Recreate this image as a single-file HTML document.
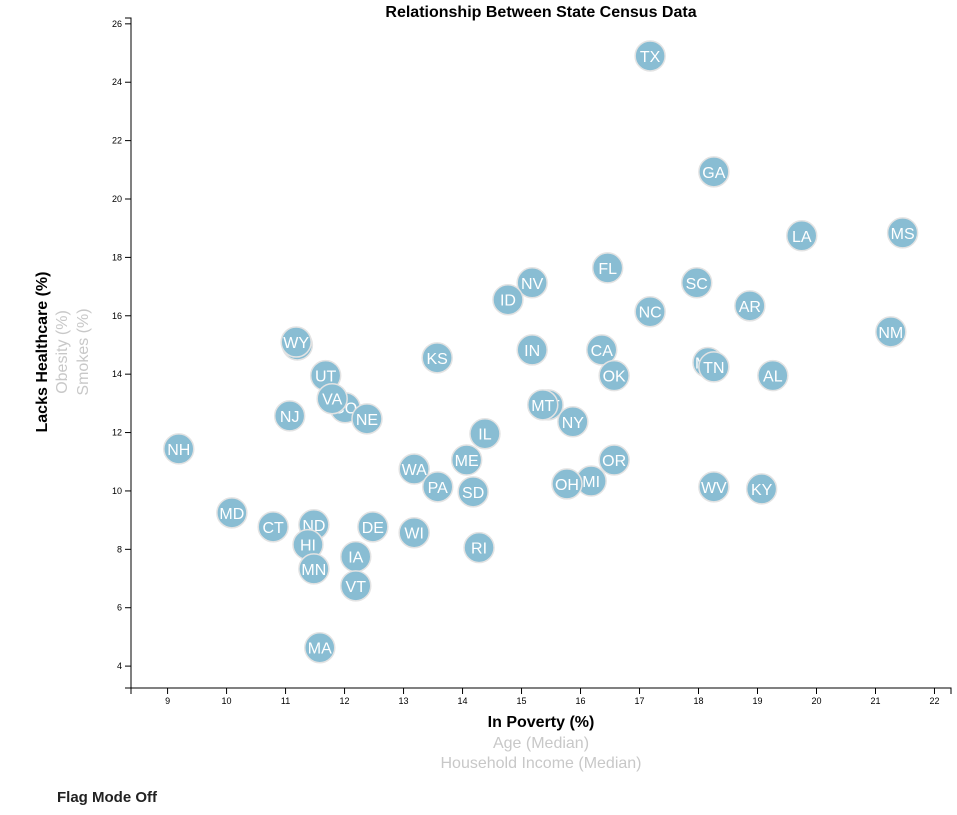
<!DOCTYPE html>
<html><head><meta charset="utf-8"><style>
body{margin:0;background:#fff;font-family:"Liberation Sans",Arial,sans-serif}
svg text{font-family:"Liberation Sans",Arial,sans-serif}
</style></head><body>
<svg id="chart" width="957" height="810" xmlns="http://www.w3.org/2000/svg">
<text x="541" y="17" text-anchor="middle" font-size="16" font-weight="bold">Relationship Between State Census Data</text>
<g id="xaxis"></g>
<g id="yaxis"></g>
<g id="points"></g>
<text transform="translate(47,352) rotate(-90)" text-anchor="middle" font-size="16" font-weight="bold" fill="#000">Lacks Healthcare (%)</text>
<text transform="translate(67,352) rotate(-90)" text-anchor="middle" font-size="16" fill="#c8c8c8">Obesity (%)</text>
<text transform="translate(88,352) rotate(-90)" text-anchor="middle" font-size="16" fill="#c8c8c8">Smokes (%)</text>
<text x="541" y="727" text-anchor="middle" font-size="16" font-weight="bold">In Poverty (%)</text>
<text x="541" y="748" text-anchor="middle" font-size="16" fill="#c8c8c8">Age (Median)</text>
<text x="541" y="768" text-anchor="middle" font-size="16" fill="#c8c8c8">Household Income (Median)</text>
<text x="57" y="802" font-size="15" font-weight="bold" fill="#222">Flag Mode Off</text>
</svg>
<script>
const states=["TX","GA","LA","MS","FL","SC","NV","ID","NC","AR","NM","WY","WY","IN","CA","KS","MO","TN","OK","AL","UT","CO","VA","NE","NJ","MT","MT","NY","IL","NH","ME","WA","OR","MI","OH","PA","SD","WV","KY","MD","CT","ND","DE","WI","HI","RI","IA","MN","VT","MA"];
const poverty=[17.18,18.26,19.75,21.46,16.46,17.97,15.18,14.77,17.18,18.87,21.26,11.2,11.18,15.18,16.36,13.57,18.16,18.26,16.57,19.26,11.68,12.01,11.79,12.38,11.07,15.45,15.36,15.87,14.38,9.19,14.07,13.18,16.57,16.18,15.77,13.58,14.18,18.26,19.07,10.09,10.79,11.48,12.48,13.18,11.38,14.28,12.19,11.48,12.19,11.58];
const healthcare=[24.9,20.93,18.74,18.84,17.64,17.13,17.13,16.55,16.14,16.34,15.45,15.0,15.1,14.83,14.83,14.56,14.4,14.25,13.95,13.95,13.95,12.85,13.16,12.47,12.57,12.95,12.95,12.37,11.96,11.44,11.06,10.75,11.06,10.34,10.24,10.14,9.97,10.14,10.07,9.25,8.77,8.84,8.77,8.57,8.16,8.06,7.75,7.33,6.75,4.63];
const xTicks=[9,10,11,12,13,14,15,16,17,18,19,20,21,22];
const yTicks=[4,6,8,10,12,14,16,18,20,22,24,26];
const X0=131,X1=951,Y0=688,Y1=18,xmin=8.38,xmax=22.28,ymin=3.25,ymax=26.2;
const xs=v=>X0+(v-xmin)/(xmax-xmin)*(X1-X0);
const ys=v=>Y0-(v-ymin)/(ymax-ymin)*(Y0-Y1);
const NS="http://www.w3.org/2000/svg";
function mk(t,a,p){const e=document.createElementNS(NS,t);for(const k in a)e.setAttribute(k,a[k]);p.appendChild(e);return e;}
const xa=document.getElementById('xaxis'),ya=document.getElementById('yaxis'),pg=document.getElementById('points');
mk('path',{d:`M${X0},${Y0+6}V${Y0}H${X1}V${Y0+6}`,stroke:'#000',fill:'none'},xa);
mk('path',{d:`M${X0-6},${Y1}H${X0}V${Y0}H${X0-6}`,stroke:'#000',fill:'none'},ya);
xTicks.forEach(t=>{const x=xs(t);
 const l=mk('line',{x1:x,x2:x,y1:Y0,y2:Y0+6,stroke:'#000'},xa);
 
 
 const tx=mk('text',{x:x,y:Y0+16,'text-anchor':'middle','font-size':9},xa);tx.textContent=t;
 
 });
yTicks.forEach(t=>{const y=ys(t);
 const l=mk('line',{x1:X0-6,x2:X0,y1:y,y2:y,stroke:'#000'},ya);
 
 
 const tx=mk('text',{x:X0-9,y:y+3,'text-anchor':'end','font-size':9},ya);tx.textContent=t;
 
 });
states.forEach((s,i)=>{const cx=xs(poverty[i]),cy=ys(healthcare[i]);
 const g=mk('g',{},pg);
 
 
 mk('circle',{cx:cx,cy:cy,r:15,fill:'#89bdd3',stroke:'#e3e3e3','stroke-width':1.5},g);
 const t=mk('text',{x:cx,y:cy+6,'text-anchor':'middle','font-size':16,fill:'#fff'},g);t.textContent=s;});
</script>
</body></html>
